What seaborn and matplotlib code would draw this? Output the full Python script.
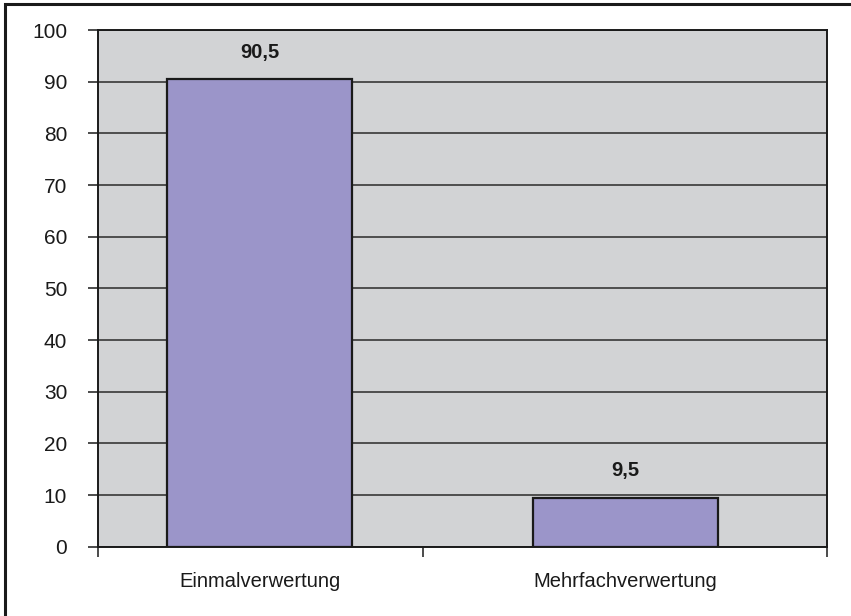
import matplotlib
matplotlib.use("Agg")
import matplotlib.pyplot as plt
import matplotlib.ticker as mticker
from matplotlib import font_manager
import seaborn as sns
import pandas as pd

categories = ["Einmalverwertung", "Mehrfachverwertung"]
values = [90.5, 9.5]
value_labels = ["90,5", "9,5"]
y_ticks = [0, 10, 20, 30, 40, 50, 60, 70, 80, 90, 100]

sns.set_theme(style="white")
names = {f.name for f in font_manager.fontManager.ttflist}
fam = "Liberation Sans Narrow" if "Liberation Sans Narrow" in names else "Liberation Sans"
plt.rcParams["font.family"] = [fam, "DejaVu Sans"]

df = pd.DataFrame({"cat": categories, "val": values})

fig = plt.figure(figsize=(8.51, 6.16), dpi=100)
ax = fig.add_axes([97.7 / 851, 1 - 546.7 / 616, (827 - 97.7) / 851, (546.7 - 30) / 616])
ax.set_facecolor("#d2d3d5")
ax.set_axisbelow(True)

sns.barplot(data=df, x="cat", y="val", color="#9b95c9", saturation=1,
            width=0.507, edgecolor="#1a1a1a", linewidth=1.6, ax=ax, zorder=3)

ax.set_ylim(0, 100)
ax.set_xlim(-0.442, 1.55)
ax.set_yticks(y_ticks)
ax.set_yticklabels([str(t) for t in y_ticks])
ax.yaxis.grid(True, color="#2a2a2a", linewidth=1.1)
ax.xaxis.grid(False)
ax.tick_params(axis="y", which="major", direction="out", length=7, width=1.1,
               color="#1a1a1a", pad=15, labelsize=15, labelcolor="#1a1a1a", left=True)
ax.tick_params(axis="x", which="major", length=0, pad=18, labelsize=14.5, labelcolor="#1a1a1a")
ax.xaxis.set_minor_locator(mticker.FixedLocator([-0.442, 0.446, 1.55]))
ax.tick_params(axis="x", which="minor", direction="out", length=7, width=1.1,
               color="#1a1a1a", bottom=True)
ax.set_xlabel("")
ax.set_ylabel("")
for s in ax.spines.values():
    s.set_visible(True)
    s.set_color("#1a1a1a")
    s.set_linewidth(1.4)

for i, (v, lab) in enumerate(zip(values, value_labels)):
    ax.annotate(lab, (i, v), xytext=(0, 19.5), textcoords="offset points",
                ha="center", va="center", fontsize=14.5, fontweight="bold", color="#1a1a1a")

# outer frame
fig.add_artist(plt.Rectangle((4.5 / 851, -0.1), 1.2, 1.1 - 4.5 / 616,
                             transform=fig.transFigure, fill=False,
                             edgecolor="#1a1a1a", linewidth=2.2))

fig.savefig("out.png", dpi=100)
